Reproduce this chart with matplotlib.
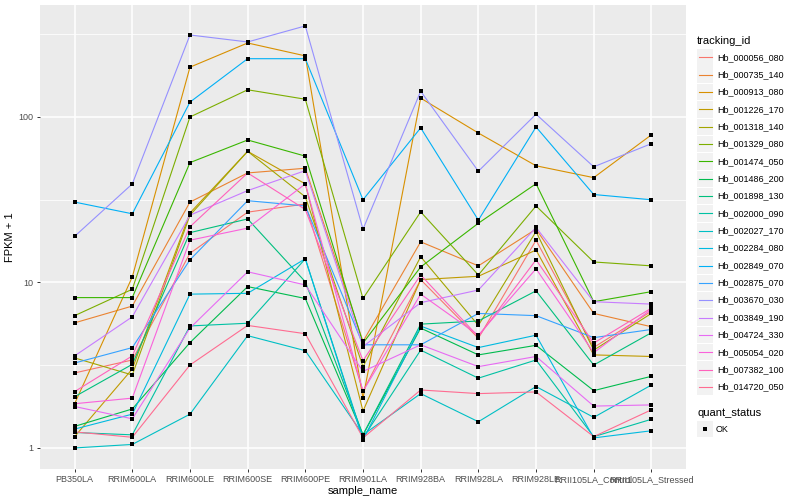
import numpy as np
import matplotlib
matplotlib.use('Agg')
import matplotlib.pyplot as plt
from matplotlib.patches import Rectangle

plt.rcParams['font.family'] = ['Liberation Sans', 'DejaVu Sans']

# samples on the x axis
samples = ['PB350LA', 'RRIM600LA', 'RRIM600LE', 'RRIM600SE', 'RRIM600PE', 'RRIM901LA',
           'RRIM928BA', 'RRIM928LA', 'RRIM928LE', 'RRII105LA_Control', 'RRII105LA_Stressed']

tracking_ids = ['Hb_000056_080', 'Hb_000735_140', 'Hb_000913_080', 'Hb_001226_170',
                'Hb_001318_140', 'Hb_001329_080', 'Hb_001474_050', 'Hb_001486_200',
                'Hb_001898_130', 'Hb_002000_090', 'Hb_002027_170', 'Hb_002284_080',
                'Hb_002849_070', 'Hb_002875_070', 'Hb_003670_030', 'Hb_003849_190',
                'Hb_004724_330', 'Hb_005054_020', 'Hb_007382_100', 'Hb_014720_050']

# FPKM + 1, one list per tracking id
hb_000056_080 = [2.84, 3.4, 15, 26.6, 29.8, 2.2, 10.4, 4.6, 18, 4.05, 6.7]
hb_000735_140 = [5.7, 7.2, 30.6, 45.9, 49, 4.4, 17.6, 12.6, 21, 6.5, 5.4]
hb_000913_080 = [1.85, 10.8, 200, 280, 234, 2.0, 130, 80, 50.7, 43, 78]
hb_001226_170 = [1.17, 3.0, 26.3, 62, 39.4, 1.67, 10.4, 10.9, 15.7, 3.65, 3.57]
hb_001318_140 = [3.5, 2.76, 25.5, 62, 32.9, 3.1, 14.3, 5.5, 20.3, 3.9, 6.5]
hb_001329_080 = [6.3, 9.1, 100, 146, 128, 8.0, 26.7, 11.1, 29, 13.3, 12.6]
hb_001474_050 = [8.1, 8.1, 53, 72.6, 58, 4.3, 12.4, 22.8, 39.5, 7.65, 8.8]
hb_001486_200 = [1.35, 1.72, 4.33, 9.44, 8.0, 1.2, 5.3, 3.65, 4.17, 2.22, 2.71]
hb_001898_130 = [2.04, 3.2, 20, 24.2, 10.1, 1.2, 5.6, 5.85, 8.9, 3.17, 4.97]
hb_002000_090 = [1.24, 1.2, 5.46, 5.67, 13.9, 1.15, 3.9, 2.64, 3.4, 1.17, 1.49]
hb_002027_170 = [1.0, 1.05, 1.6, 4.77, 3.87, 1.2, 2.13, 1.44, 2.35, 1.53, 2.4]
hb_002284_080 = [1.3, 1.6, 8.5, 8.6, 13.9, 1.12, 5.45, 4.04, 4.8, 1.15, 1.27]
hb_002849_070 = [30.6, 26, 123, 225, 225, 31.6, 86, 23.8, 87, 34, 31.6]
hb_002875_070 = [3.26, 4.04, 13.7, 31.2, 29, 4.2, 4.2, 6.5, 6.3, 4.64, 5.2]
hb_003670_030 = [19, 39.4, 313, 284, 355, 21, 143, 47, 104, 50, 69]
hb_003849_190 = [3.6, 6.2, 25.5, 35.9, 47.4, 4.1, 7.55, 9.0, 21.5, 7.65, 7.4]
hb_004724_330 = [1.78, 1.5, 5.3, 11.6, 9.66, 2.9, 4.2, 3.1, 3.57, 1.79, 1.82]
hb_005054_020 = [1.85, 2.0, 18, 21.3, 39.4, 2.2, 8.5, 4.8, 12.1, 3.76, 6.9]
hb_007382_100 = [2.19, 3.6, 21.7, 45.9, 27.6, 3.37, 11.1, 4.7, 13.7, 4.3, 7.0]
hb_014720_050 = [1.25, 1.16, 3.17, 5.5, 4.9, 1.15, 2.24, 2.13, 2.18, 1.17, 1.70]

series = [hb_000056_080, hb_000735_140, hb_000913_080, hb_001226_170, hb_001318_140,
          hb_001329_080, hb_001474_050, hb_001486_200, hb_001898_130, hb_002000_090,
          hb_002027_170, hb_002284_080, hb_002849_070, hb_002875_070, hb_003670_030,
          hb_003849_190, hb_004724_330, hb_005054_020, hb_007382_100, hb_014720_050]

# ggplot2 hue palette for 20 levels
colors = ['#F8766D', '#EA8331', '#D89000', '#C09B00', '#A3A500', '#7CAE00', '#39B600',
          '#00BB4E', '#00BF7D', '#00C1A3', '#00BFC4', '#00BAE0', '#00B0F6', '#35A2FF',
          '#9590FF', '#C77CFF', '#E76BF3', '#FA62DB', '#FF62BC', '#FF6C91']

fig = plt.figure(figsize=(8, 5), dpi=100)
ax = fig.add_axes([40 / 800, 31 / 500, 646 / 800, 464 / 500])
ax.set_facecolor('#EBEBEB')

x = np.arange(len(samples))
for vals, c in zip(series, colors):
    ax.plot(x, vals, color=c, lw=0.8, zorder=3)
for vals in series:
    ax.plot(x, vals, ls='none', marker='s', ms=2.8, mew=0, color='black', zorder=4)

ax.set_yscale('log')
ax.set_ylim(0.746, 475)
ax.set_xlim(-0.6, len(samples) - 0.4)
ax.set_yticks([1, 10, 100])
ax.set_yticklabels(['1', '10', '100'])
ax.set_yticks([10 ** 0.5, 10 ** 1.5, 10 ** 2.5], minor=True)
ax.yaxis.set_minor_formatter(matplotlib.ticker.NullFormatter())
ax.set_xticks(x)
ax.set_xticklabels(samples)
ax.grid(True, which='major', color='white', lw=1.1, zorder=0)
ax.grid(True, which='minor', axis='y', color='white', lw=0.55, zorder=0)
ax.set_axisbelow(True)
for s in ax.spines.values():
    s.set_visible(False)
ax.tick_params(which='major', length=2.5, width=0.7, color='#333333',
               labelsize=6.5, labelcolor='#4D4D4D', pad=2)
ax.tick_params(which='minor', length=0)
ax.set_xlabel('sample_name', fontsize=8, labelpad=1)
ax.set_ylabel('FPKM + 1', fontsize=8, labelpad=3)

# legend drawn in figure pixels, ggplot style
lg = fig.add_axes([0, 0, 1, 1])
lg.set_xlim(0, 800)
lg.set_ylim(500, 0)
lg.axis('off')
lg.text(697, 41, 'tracking_id', fontsize=8, va='center', ha='left')
for i, (name, c) in enumerate(zip(tracking_ids, colors)):
    yc = 57.3 + i * 17.35
    lg.add_patch(Rectangle((697, yc - 8.2), 16.4, 16.4, facecolor='#F2F2F2', edgecolor='none'))
    lg.plot([698.5, 711.5], [yc, yc], color=c, lw=0.8)
    lg.text(717, yc, name, fontsize=6.5, va='center', ha='left')
lg.text(697, 412.5, 'quant_status', fontsize=8, va='center', ha='left')
lg.add_patch(Rectangle((697, 421), 16.4, 16.4, facecolor='#F2F2F2', edgecolor='none'))
lg.plot([705], [429.2], marker='s', ms=2.8, mew=0, color='black')
lg.text(716, 429.2, 'OK', fontsize=6.5, va='center', ha='left')

fig.savefig('out.png', dpi=100)
